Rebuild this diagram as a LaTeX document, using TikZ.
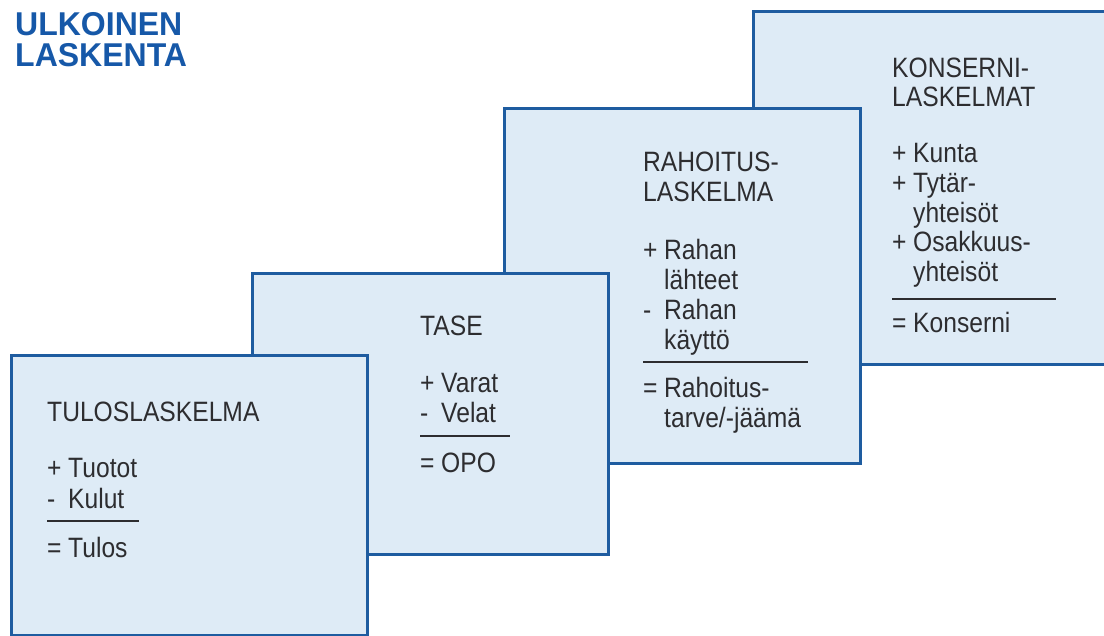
\documentclass[tikz,border=0pt]{standalone}
\usepackage{fontspec}
\setmainfont{Liberation Sans}
\newfontfamily\bodyfont[FakeStretch=0.88]{Liberation Sans}
\newfontfamily\headfont[FakeStretch=0.97]{Liberation Sans}
\definecolor{panelfill}{RGB}{222,235,246}
\definecolor{paneledge}{RGB}{30,92,160}
\definecolor{inkgray}{RGB}{45,45,48}
\definecolor{titleblue}{RGB}{22,88,168}
% sign column: the sign sits in a fixed-width slot so the words line up
\newcommand\sgn[1]{\makebox[21pt][l]{#1}}
\newcommand\cont{\hspace*{21pt}}
\tikzset{
  panel/.style={draw=paneledge, fill=panelfill, line width=3pt,
    anchor=north west, inner sep=0pt, minimum width=356pt},
  txt/.style={anchor=base west, inner sep=0pt, text=inkgray,
    font=\bodyfont\fontsize{28}{30}\selectfont},
  ttl/.style={anchor=base west, inner sep=0pt, text=titleblue,
    font=\headfont\bfseries\fontsize{33}{36}\selectfont},
  sumrule/.style={draw=inkgray, line width=1.6pt}
}
\begin{document}
\begin{tikzpicture}[x=1pt, y=-1pt]
  \useasboundingbox (0,0) rectangle (1104,636);
  \clip (0,0) rectangle (1104,636);

  % title
  \node[ttl] (title1) at (15,36) {ULKOINEN};
  \node[ttl] (title2) at (15,67) {LASKENTA};

  % panels, back to front
  \node[panel, minimum height=353pt] (b4) at (752,10) {};
  \node[panel, minimum height=355pt] (b3) at (503,107) {};
  \node[panel, minimum height=281pt] (b2) at (251,272) {};
  \node[panel, minimum height=280pt] (b1) at (10,354) {};

  % KONSERNILASKELMAT
  \node[txt] (k1) at (892,78) {KONSERNI-};
  \node[txt] (k2) at (892,107) {LASKELMAT};
  \node[txt] (k3) at (892,163) {\sgn{+}Kunta};
  \node[txt] (k4) at (892,192.6) {\sgn{+}Tytär-};
  \node[txt] (k5) at (892,222.2) {\cont yhteisöt};
  \node[txt] (k6) at (892,251.8) {\sgn{+}Osakkuus-};
  \node[txt] (k7) at (892,281.4) {\cont yhteisöt};
  \draw[sumrule] (892,299) -- (1056,299);
  \node[txt] (k8) at (892,333) {\sgn{=}Konserni};

  % RAHOITUSLASKELMA
  \node[txt] (r1) at (643,172) {RAHOITUS-};
  \node[txt] (r2) at (643,202) {LASKELMA};
  \node[txt] (r3) at (643,260) {\sgn{+}Rahan};
  \node[txt] (r4) at (643,290) {\cont lähteet};
  \node[txt] (r5) at (643,320) {\sgn{-}Rahan};
  \node[txt] (r6) at (643,350) {\cont käyttö};
  \draw[sumrule] (643,362) -- (808,362);
  \node[txt] (r7) at (643,398) {\sgn{=}Rahoitus-};
  \node[txt] (r8) at (643,428) {\cont tarve/-jäämä};

  % TASE
  \node[txt] (t1) at (420,336) {TASE};
  \node[txt] (t2) at (420,393) {\sgn{+}Varat};
  \node[txt] (t3) at (420,423) {\sgn{-}Velat};
  \draw[sumrule] (420,436) -- (510,436);
  \node[txt] (t4) at (420,472) {\sgn{=}OPO};

  % TULOSLASKELMA
  \node[txt] (u1) at (47,421) {TULOSLASKELMA};
  \node[txt] (u2) at (47,478) {\sgn{+}Tuotot};
  \node[txt] (u3) at (47,508) {\sgn{-}Kulut};
  \draw[sumrule] (47,521) -- (139,521);
  \node[txt] (u4) at (47,557) {\sgn{=}Tulos};
\end{tikzpicture}
\end{document}
